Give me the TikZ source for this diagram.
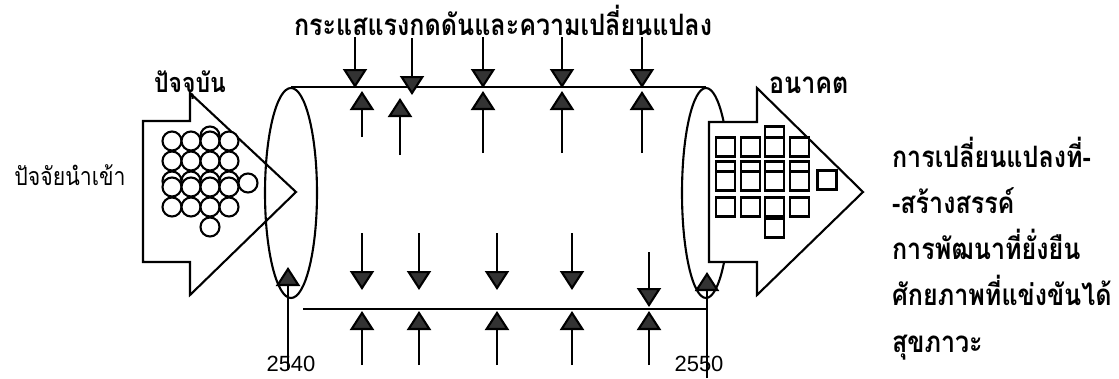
\documentclass[tikz,border=0pt]{standalone}
\usepackage{fontspec}
\setmainfont{Liberation Sans}
\newfontfamily\thaifont[Script=Thai,FakeStretch=0.85]{Loma}
\usetikzlibrary{arrows.meta}
\usetikzlibrary{shapes.geometric}

\begin{document}
\begin{tikzpicture}[x=1pt,y=-1pt,line width=2.1pt,
        push/.style={-{Triangle[width=24pt,length=19pt,fill=black!80]}},
        period/.style={draw,ellipse,inner sep=0pt,minimum height=210pt},
        thai/.style={anchor=base,inner sep=0pt,font=\thaifont\bfseries\fontsize{29.5}{34}\selectfont},
        year/.style={anchor=base,inner sep=0pt,font=\fontsize{22}{26}\selectfont}]
        \useasboundingbox (0,0) rectangle (1119,378);

        \filldraw[fill=white] (143,121) -- (190,121) -- (190,93) -- (296,192)
                -- (190,295) -- (190,262) -- (143,262) -- cycle;
        \foreach \x/\y in {210/136,172/181,191/181,210/181,229/181,248/183}
                \filldraw[fill=white] (\x,\y) circle (9.5);
        \foreach \y in {141,161,187,207}
                \foreach \x in {172,191,210,229}
                        \filldraw[fill=white] (\x,\y) circle (9.5);
        \filldraw[fill=white] (210,227) circle (9.5);

        \node[period,minimum width=52pt] (past) at (291,193) {};
        \node[period,minimum width=48pt] (future) at (706,193) {};
        \draw (past.north) -- (future.north);
        \draw (303,309) -- (707,309);

        \filldraw[fill=white] (709,122) -- (757,122) -- (757,88) -- (863,192)
                -- (757,295) -- (757,262) -- (709,262) -- cycle;
        \foreach \x/\y in {774.5/136,725.5/171,750.5/171,774.5/171,799.5/171}
                \filldraw[fill=white] (\x-9.5,\y-9.5) rectangle ++(19,19);
        \foreach \y in {147,181,207}
                \foreach \x in {725.5,750.5,774.5,799.5}
                        \filldraw[fill=white] (\x-9.5,\y-9.5) rectangle ++(19,19);
        \foreach \x/\y in {827/180,774.5/228}
                \filldraw[fill=white] (\x-9.5,\y-9.5) rectangle ++(19,19);

        \foreach \x in {483,562,642} {
                \draw[push] (\x,37) -- (\x,88);
                \draw[push] (\x,153) -- (\x,91);
        }
        \draw[push] (355,37) -- (355,88);
        \draw[push] (362,137) -- (362,91);
        \draw[push] (412,38) -- (412,95);
        \draw[push] (400,155) -- (400,98);

        \foreach \x in {362,419,497,572} {
                \draw[push] (\x,233) -- (\x,290);
                \draw[push] (\x,365) -- (\x,311);
        }
        \draw[push] (649,252) -- (649,307);
        \draw[push] (649,365) -- (649,311);
        \draw[push] (288,370) -- (288,267);
        \draw[push] (707,378) -- (707,272);

        \node[thai] (title) at (503,35) {กระแสแรงกดดันและความเปลี่ยนแปลง};
        \node[thai,font=\thaifont\bfseries\fontsize{27}{31}\selectfont] (now) at (190,92) {ปัจจุบัน};
        \node[thai,font=\thaifont\fontsize{25}{29}\selectfont] (input) at (70,185) {ปัจจัยนำเข้า};
        \node[thai,anchor=base west] (later) at (768,93) {อนาคต};
        \foreach \t [count=\i] in {การเปลี่ยนแปลงที่-,-สร้างสรรค์,การพัฒนาที่ยั่งยืน,ศักยภาพที่แข่งขันได้,สุขภาวะ}
                \node[thai,anchor=base west] (out\i) at (891,120.7+46.3*\i) {\t};
        \node[year] (y2540) at (291,371) {2540};
        \node[year] (y2550) at (699,371) {2550};
\end{tikzpicture}
\end{document}
